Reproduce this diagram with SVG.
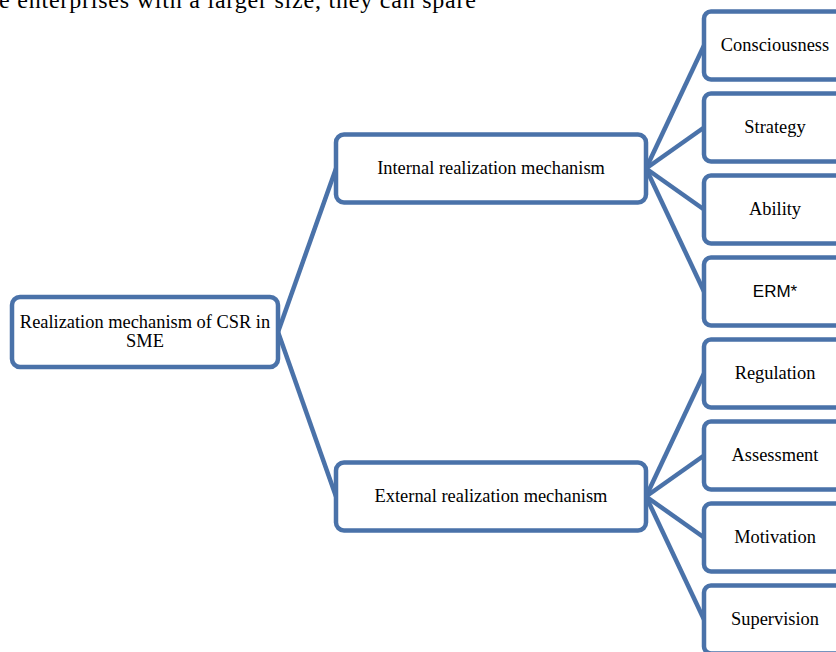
<svg xmlns="http://www.w3.org/2000/svg" width="836" height="652" viewBox="0 0 836 652">
<style>
.box{fill:#fff;stroke:#4A72A9;stroke-width:4.5}
.ln{stroke:#4A72A9;stroke-width:4.5;fill:none}
.t{font-family:"Liberation Serif","Times New Roman",serif;font-size:18.4px;fill:#000;text-anchor:middle}
.s{font-family:"Liberation Sans",Arial,sans-serif;font-size:17px;fill:#000;text-anchor:middle}
</style>
<rect width="836" height="652" fill="#fff"/>
<text x="-1" y="8" font-family="Liberation Serif, Times New Roman, serif" font-size="24" textLength="477" lengthAdjust="spacing">e enterprises with a larger size, they can spare</text>
<g id="connectors">
<line class="ln" x1="278" y1="332" x2="336" y2="168.5"/>
<line class="ln" x1="278" y1="332" x2="336" y2="496.5"/>
<line class="ln" x1="646" y1="168.5" x2="704" y2="45.5"/>
<line class="ln" x1="646" y1="168.5" x2="704" y2="127.5"/>
<line class="ln" x1="646" y1="168.5" x2="704" y2="209.5"/>
<line class="ln" x1="646" y1="168.5" x2="704" y2="291.5"/>
<line class="ln" x1="646" y1="496.5" x2="704" y2="373.5"/>
<line class="ln" x1="646" y1="496.5" x2="704" y2="455.5"/>
<line class="ln" x1="646" y1="496.5" x2="704" y2="537.5"/>
<line class="ln" x1="646" y1="496.5" x2="704" y2="619.5"/>
</g>
<g id="root"><rect class="box" x="12" y="297" width="266" height="70" rx="8"/><text class="t" x="145" y="328">Realization mechanism of CSR in</text><text class="t" x="145" y="347">SME</text></g>
<g id="internal"><rect class="box" x="336" y="134.5" width="310" height="68" rx="8"/><text class="t" x="491" y="174">Internal realization mechanism</text></g>
<g id="external"><rect class="box" x="336" y="462.5" width="310" height="68" rx="8"/><text class="t" x="491" y="502">External realization mechanism</text></g>
<g id="consciousness"><rect class="box" x="704" y="11.5" width="142" height="68" rx="7"/><text class="t" x="775" y="51">Consciousness</text></g>
<g id="strategy"><rect class="box" x="704" y="93.5" width="142" height="68" rx="7"/><text class="t" x="775" y="133">Strategy</text></g>
<g id="ability"><rect class="box" x="704" y="175.5" width="142" height="68" rx="7"/><text class="t" x="775" y="215">Ability</text></g>
<g id="erm"><rect class="box" x="704" y="257.5" width="142" height="68" rx="7"/><text class="s" x="775" y="297">ERM*</text></g>
<g id="regulation"><rect class="box" x="704" y="339.5" width="142" height="68" rx="7"/><text class="t" x="775" y="379">Regulation</text></g>
<g id="assessment"><rect class="box" x="704" y="421.5" width="142" height="68" rx="7"/><text class="t" x="775" y="461">Assessment</text></g>
<g id="motivation"><rect class="box" x="704" y="503.5" width="142" height="68" rx="7"/><text class="t" x="775" y="543">Motivation</text></g>
<g id="supervision"><rect class="box" x="704" y="585.5" width="142" height="68" rx="7"/><text class="t" x="775" y="625">Supervision</text></g>
</svg>
